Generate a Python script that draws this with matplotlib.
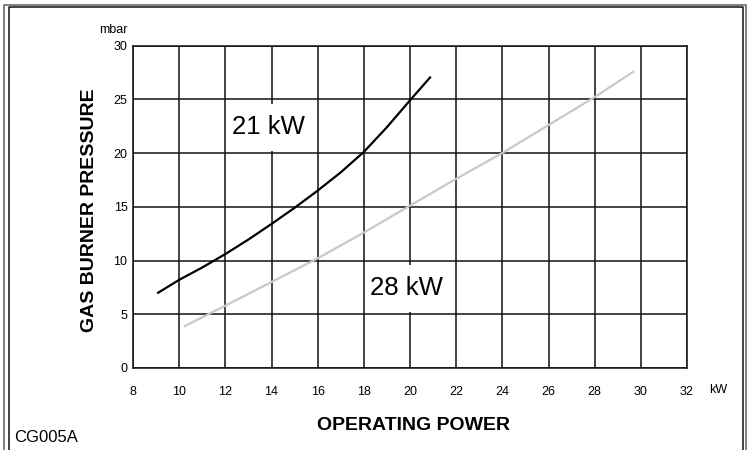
import matplotlib
matplotlib.use("Agg")
import matplotlib.pyplot as plt
from matplotlib.lines import Line2D
from matplotlib.patches import Rectangle

plt.rcParams['font.family'] = ['Liberation Sans', 'DejaVu Sans']

# Data
power_21 = [9.05, 10, 11, 12, 13, 14, 15, 16, 17, 18, 19, 20, 20.9]
pressure_21 = [6.95, 8.2, 9.35, 10.6, 11.95, 13.4, 14.9, 16.5, 18.2, 20.1, 22.4, 24.9, 27.1]
power_28 = [10.2, 12, 14, 16, 18, 20, 22, 24, 26, 28, 29.7]
pressure_28 = [3.85, 5.8, 8.0, 10.2, 12.6, 15.1, 17.6, 20.0, 22.6, 25.2, 27.6]
x_ticks = [8, 10, 12, 14, 16, 18, 20, 22, 24, 26, 28, 30, 32]
y_ticks = [0, 5, 10, 15, 20, 25, 30]
series_labels = ["21 kW", "28 kW"]

W, H = 752, 450
fig = plt.figure(figsize=(W / 100, H / 100), dpi=100)
fig.patch.set_facecolor('white')

def fx(px):
    return px / W

def fy(py):
    return 1 - py / H

# outer frame (double line), bottom runs off the picture
for (x0, y0, x1, col, lw) in [(4.2, 4.5, 745.5, '#808080', 1.4), (8.7, 7.0, 743.0, '#111111', 1.1)]:
    pts_x = [fx(x0), fx(x0), fx(x1), fx(x1)]
    pts_y = [fy(460), fy(y0), fy(y0), fy(460)]
    fig.add_artist(Line2D(pts_x, pts_y, transform=fig.transFigure, color=col, lw=lw))

ax = fig.add_axes([133 / W, 1 - 368 / H, (687 - 133) / W, (368 - 45.5) / H])
ax.set_xlim(8, 32)
ax.set_ylim(0, 30)
ax.set_xticks(x_ticks)
ax.set_yticks(y_ticks)
ax.set_xticklabels([str(v) for v in x_ticks], fontsize=9)
ax.set_yticklabels([str(v) for v in y_ticks], fontsize=9)
ax.tick_params(axis='x', length=0, pad=13)
ax.tick_params(axis='y', length=0, pad=4)
ax.grid(True, color='#111111', lw=1.1)
ax.set_axisbelow(True)
for s in ax.spines.values():
    s.set_color('#111111')
    s.set_linewidth(1.1)

ax.plot(power_28, pressure_28, color='#c8c8c8', lw=1.6, solid_capstyle='butt', zorder=3)
ax.plot(power_21, pressure_21, color='#000000', lw=1.6, solid_capstyle='butt', zorder=3)

# label boxes covering grid cells
ax.add_patch(Rectangle((12.06, 20.15), 3.9, 4.45, facecolor='white', edgecolor='none', zorder=2))
ax.add_patch(Rectangle((18.06, 5.25), 3.88, 4.3, facecolor='white', edgecolor='none', zorder=2))
ax.text(13.85, 22.4, series_labels[0], fontsize=18.5, ha='center', va='center', zorder=4)
ax.text(19.86, 7.45, series_labels[1], fontsize=18.5, ha='center', va='center', zorder=4)

fig.text(fx(113), fy(30), "mbar", fontsize=9, ha='center', va='center')
fig.text(fx(718), fy(390), "kW", fontsize=9, ha='center', va='center')
fig.text(fx(90), fy(210), "GAS BURNER PRESSURE", fontsize=14, fontweight='bold',
         rotation=90, ha='center', va='center')
fig.text(fx(414), fy(425), "OPERATING POWER", fontsize=14, fontweight='bold',
         ha='center', va='center')
fig.text(fx(14), fy(437), "CG005A", fontsize=12, ha='left', va='center')

fig.savefig("out.png", dpi=100)
